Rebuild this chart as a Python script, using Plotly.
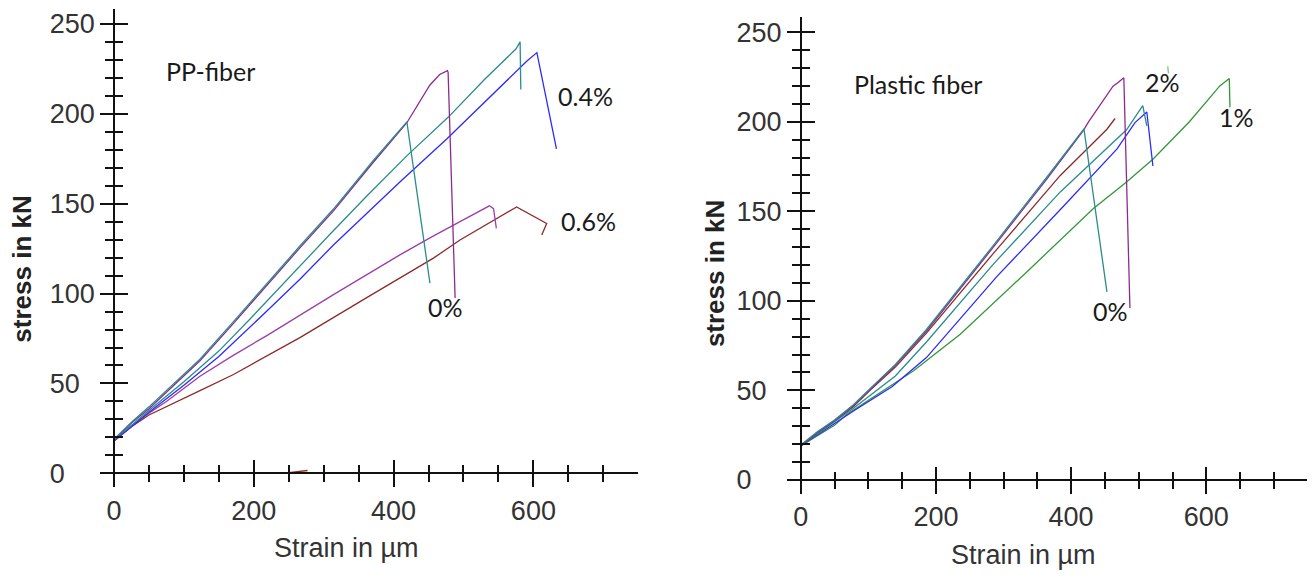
import plotly.graph_objects as go

# ---------------- data ----------------
y_tick_values = [0, 50, 100, 150, 200, 250]
x_tick_values = [0, 200, 400, 600]

# Left panel: PP-fiber
pp_purple0_x = [0, 25, 50, 100, 123, 170, 218, 265, 314, 371, 419, 452, 466, 477, 478, 488]
pp_purple0_y = [18.5, 28, 36, 54, 62.6, 83, 104.5, 125, 146, 173, 195, 216, 221.8, 224, 223, 97.5]
pp_teal0_x = [0, 25, 50, 100, 123, 170, 218, 265, 314, 371, 419, 452]
pp_teal0_y = [19, 28.5, 37, 55, 63.5, 84, 105.5, 126, 147, 174, 195.5, 105.8]
pp_teal04_x = [0, 25, 50, 100, 150, 195, 266, 309, 361, 420, 478, 530, 575, 581, 582]
pp_teal04_y = [18.5, 27, 35, 51, 68, 86, 115.5, 133, 154, 177, 198, 219, 236, 240, 213.5]
pp_blue04_x = [0, 25, 50, 100, 150, 218, 266, 314, 409, 476, 540, 590, 605, 633]
pp_blue04_y = [18, 26, 34, 49, 65, 90, 108, 127, 162, 186, 210, 229, 234, 180.4]
pp_purple06_x = [0, 25, 50, 75, 123, 170, 218, 266, 314, 409, 452, 495, 537, 543, 547]
pp_purple06_y = [18, 26.5, 33.5, 40, 54, 65.5, 76.5, 88, 99.4, 121.5, 131, 140, 148.8, 147.2, 136.2]
pp_brown06_x = [0, 25, 50, 75, 123, 171, 218, 266, 361, 457, 495, 576, 619, 612]
pp_brown06_y = [18, 26, 32.5, 37, 46, 55, 65, 75.5, 97.6, 119.7, 129.8, 148.2, 139, 132.5]
pp_brown_mark_x = [250, 277]
pp_brown_mark_y = [0.4, 1.6]

# Right panel: Plastic fiber
pl_purple_x = [0, 25, 50, 78, 102.5, 140, 186, 235, 285, 364, 418, 426, 462, 470, 478, 487]
pl_purple_y = [19, 26.5, 33, 41.5, 50.5, 64, 83, 106, 130, 168, 195, 200, 219.8, 222, 224.5, 96]
pl_teal0_x = [0, 25, 50, 78, 102.5, 140, 186, 235, 285, 364, 419, 453]
pl_teal0_y = [19.5, 27, 33.5, 42, 51, 64.5, 84, 107, 131, 169, 196, 105]
pl_brown_x = [0, 25, 50, 78, 102.5, 140, 186, 235, 285, 384, 394, 453, 465]
pl_brown_y = [19, 26.5, 33, 41, 50, 63, 82, 104, 126.5, 170, 173.7, 195.8, 201.8]
pl_teal2_x = [0, 25, 50, 78, 140, 186, 285, 384, 468, 482, 506, 512]
pl_teal2_y = [19, 26, 32.5, 40, 58, 77, 120.5, 160.8, 190.3, 195.5, 209, 197.7]
pl_blue_x = [0, 25, 50, 78, 135, 186, 290, 388, 468, 494.5, 512, 521]
pl_blue_y = [19, 25.5, 31.5, 38.5, 52, 68.3, 113.5, 152.5, 184.8, 199.5, 205.4, 175.3]
pl_green1_x = [0, 25, 50, 68, 137, 167, 236, 295, 334, 433, 482, 521, 575, 620, 634, 635]
pl_green1_y = [19, 25, 30.5, 36.5, 53.5, 61, 81.3, 102, 116, 151.5, 166.3, 179, 200, 220, 224.1, 208]
pl_green_mark_x = [543, 544]
pl_green_mark_y = [231, 227]

# curve labels
pp_labels = ["PP-fiber", "0.4%", "0.6%", "0%"]
pp_label_x = [138, 675, 679, 474]
pp_label_y = [223.8, 210, 140.4, 92.3]
pl_labels = ["Plastic fiber", "2%", "1%", "0%"]
pl_label_x = [174, 535, 645, 458]
pl_label_y = [221.3, 222.2, 202.5, 94.4]

# ---------------- styles / geometry ----------------
PAGE_OFF = 8                      # default body margin of the html page
W, H = 1315 - PAGE_OFF, 578 - PAGE_OFF
PURPLE = "#8e2a8e"
PURPLE_L = "#9b3fa6"
TEAL = "#2a8c8c"
BLUE = "#2b2bff"
BROWN = "#8b2b2b"
GREEN = "#35973a"
LW = 1.3

fig = go.Figure()


def add(x, y, color, xa="x", ya="y"):
    fig.add_trace(go.Scatter(x=x, y=y, mode="lines", xaxis=xa, yaxis=ya,
                             line=dict(color=color, width=LW),
                             showlegend=False, hoverinfo="skip"))


add(pp_brown06_x, pp_brown06_y, BROWN)
add(pp_purple06_x, pp_purple06_y, PURPLE_L)
add(pp_blue04_x, pp_blue04_y, BLUE)
add(pp_teal04_x, pp_teal04_y, TEAL)
add(pp_purple0_x, pp_purple0_y, PURPLE)
add(pp_teal0_x, pp_teal0_y, TEAL)
add(pp_brown_mark_x, pp_brown_mark_y, BROWN)

add(pl_green1_x, pl_green1_y, GREEN, "x2", "y2")
add(pl_blue_x, pl_blue_y, BLUE, "x2", "y2")
add(pl_teal2_x, pl_teal2_y, TEAL, "x2", "y2")
add(pl_brown_x, pl_brown_y, BROWN, "x2", "y2")
add(pl_purple_x, pl_purple_y, PURPLE, "x2", "y2")
add(pl_teal0_x, pl_teal0_y, TEAL, "x2", "y2")
add(pl_green_mark_x, pl_green_mark_y, "#7fc27f", "x2", "y2")

# empty traces so that the inner-tick overlay axes are drawn
for xa, ya in (("x3", "y3"), ("x4", "y4")):
    fig.add_trace(go.Scatter(x=[None], y=[None], xaxis=xa, yaxis=ya,
                             showlegend=False, hoverinfo="skip"))


def px_x(p):
    return (p - PAGE_OFF) / W


def px_y(p):
    return 1 - (p - PAGE_OFF) / H


TICKFONT = dict(family="Liberation Sans, Arial", size=27, color="#333333")
AXC = "#111111"


def ylabels(vals):
    out = []
    for v in vals:
        s = str(v)
        out.append(s + "\u2007" * (3 - len(s)))
    return out


def xaxis_def(rng, dom, pos, inside=False, overlay=None):
    d = dict(type="linear", range=rng, anchor="free", position=pos,
             showgrid=False, zeroline=False,
             tickmode="array", tickvals=x_tick_values,
             ticktext=[str(v) for v in x_tick_values],
             ticklen=13, tickwidth=1.6, tickcolor=AXC,
             minor=dict(tickmode="linear", tick0=0, dtick=50, ticklen=8,
                        tickwidth=1.6, tickcolor=AXC,
                        ticks="inside" if inside else "outside", showgrid=False),
             ticks="inside" if inside else "outside",
             fixedrange=True)
    if inside:
        d.update(showline=False, showticklabels=False, overlaying=overlay)
    else:
        d.update(domain=dom, showline=True, linecolor=AXC, linewidth=1.6,
                 showticklabels=True, tickfont=TICKFONT)
    return d


def yaxis_def(rng, dom, pos, inside=False, overlay=None):
    d = dict(type="linear", range=rng, anchor="free", position=pos,
             showgrid=False, zeroline=False,
             tickmode="array", tickvals=y_tick_values,
             ticktext=ylabels(y_tick_values),
             ticklen=13, tickwidth=1.6, tickcolor=AXC,
             minor=dict(tickmode="linear", tick0=0, dtick=10, ticklen=8,
                        tickwidth=1.6, tickcolor=AXC,
                        ticks="inside" if inside else "outside", showgrid=False),
             ticks="inside" if inside else "outside",
             fixedrange=True)
    if inside:
        d.update(showline=False, showticklabels=False, overlaying=overlay)
    else:
        d.update(domain=dom, showline=True, linecolor=AXC, linewidth=1.6,
                 showticklabels=True, tickfont=TICKFONT)
    return d


# left panel geometry (screen pixels)
L_xr = [-20, 749.5]
L_xd = [px_x(100), px_x(114 + 749.5 * 0.699)]
L_yr = [-7.3, 258.3]
L_yd = [px_y(489.9), px_y(8.9)]
L_xpos = px_y(476.7)
L_ypos = px_x(114)
# right panel geometry
R_xr = [-20.3, 749.5]
R_xd = [px_x(787), px_x(800.7 + 749.5 * 0.676)]
R_yr = [-6.5, 258.5]
R_yd = [px_y(495), px_y(17)]
R_xpos = px_y(483.3)
R_ypos = px_x(800.7)

fig.update_layout(
    width=W, height=H,
    margin=dict(l=0, r=0, t=0, b=0),
    paper_bgcolor="white", plot_bgcolor="white",
    showlegend=False,
    xaxis=xaxis_def(L_xr, L_xd, L_xpos),
    yaxis=yaxis_def(L_yr, L_yd, L_ypos),
    xaxis2=xaxis_def(R_xr, R_xd, R_xpos),
    yaxis2=yaxis_def(R_yr, R_yd, R_ypos),
    xaxis3=xaxis_def(L_xr, None, L_xpos, inside=True, overlay="x"),
    yaxis3=yaxis_def(L_yr, None, L_ypos, inside=True, overlay="y"),
    xaxis4=xaxis_def(R_xr, None, R_xpos, inside=True, overlay="x2"),
    yaxis4=yaxis_def(R_yr, None, R_ypos, inside=True, overlay="y2"),
)

LABELFONT = dict(family="Lato, Carlito, Calibri", size=25, color="#1a1a1a")
for t, x, y in zip(pp_labels, pp_label_x, pp_label_y):
    fig.add_annotation(text=t, x=x, y=y, xref="x", yref="y", showarrow=False,
                       font=LABELFONT, xanchor="center", yanchor="middle")
for t, x, y in zip(pl_labels, pl_label_x, pl_label_y):
    fig.add_annotation(text=t, x=x, y=y, xref="x2", yref="y2", showarrow=False,
                       font=LABELFONT, xanchor="center", yanchor="middle")

TITLEFONT = dict(family="Liberation Sans, Arial", size=26, color="#222222", weight="bold")
XTITLEFONT = dict(family="Liberation Sans, Arial", size=27, color="#333333")
for cx, cy in ((22, 271.5), (715, 276)):
    fig.add_annotation(text="stress in kN", x=px_x(cx), y=px_y(cy), xref="paper", yref="paper",
                       showarrow=False, textangle=-90, font=TITLEFONT,
                       xanchor="center", yanchor="middle")
for cx, cy in ((346, 552), (1023.5, 559)):
    fig.add_annotation(text="Strain in µm", x=px_x(cx), y=px_y(cy), xref="paper", yref="paper",
                       showarrow=False, font=XTITLEFONT, xanchor="center", yanchor="middle")

fig.write_html("out.html")
